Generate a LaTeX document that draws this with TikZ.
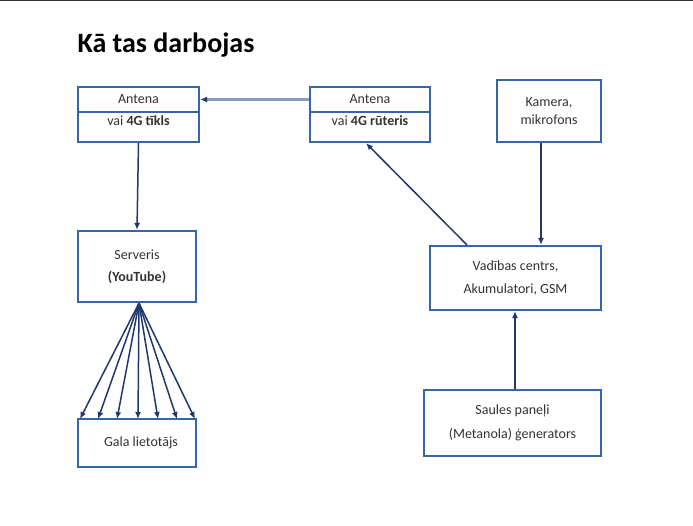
\documentclass[tikz,border=0pt]{standalone}
\usepackage{fontspec}
\setmainfont{Carlito}
\usetikzlibrary{arrows.meta}
\definecolor{boxblue}{HTML}{3566A6}
\definecolor{arrnavy}{HTML}{22386A}
\definecolor{arrlight}{HTML}{8A9CC0}
\definecolor{txtgray}{HTML}{333333}
\begin{document}
\begin{tikzpicture}[x=1pt,y=-1pt,
  box/.style={draw=boxblue,line width=2.2pt,fill=white,inner sep=0pt,align=center,text=txtgray,font=\fontsize{14}{16}\selectfont},
  conn/.style={draw=arrnavy,line width=1.5pt,-{Latex[length=7pt,width=6pt]}},
  connlight/.style={draw=arrlight,line width=2.2pt,-{Latex[length=7pt,width=6pt,color=arrnavy]}}]
\useasboundingbox (0,0) rectangle (693,525);
\fill[white] (0,0) rectangle (693,525);
\draw[line width=1.4pt,black!80] (0,0.7) -- (693,0.7);
\node[anchor=west,font=\bfseries\fontsize{28}{32}\selectfont] (title) at (74,45) {Kā tas darbojas};
% left antenna
\node[box,minimum width=121pt,minimum height=55pt] (antL) at (138.5,114.5) {};
\node[box,minimum width=121pt,minimum height=25pt] (antLtop) at (138.5,99.5) {Antena};
\node[font=\fontsize{14}{16}\selectfont,text=txtgray] (antLbot) at (138.5,121) {vai \textbf{4G tīkls}};
% middle antenna
\node[box,minimum width=120pt,minimum height=55pt] (antM) at (370,114.5) {};
\node[box,minimum width=120pt,minimum height=25pt] (antMtop) at (370,99.5) {Antena};
\node[font=\fontsize{14}{16}\selectfont,text=txtgray] (antMbot) at (370,121) {vai \textbf{4G rūteris}};
% camera
\node[box,minimum width=104pt,minimum height=62pt] (cam) at (549,111) {Kamera,\\[2pt]mikrofons};
% server
\node[box,minimum width=118pt,minimum height=71pt] (srv) at (137,266.5) {Serveris\\[6pt]\textbf{(YouTube)}};
% control centre
\node[box,minimum width=171pt,minimum height=64pt] (ctrl) at (515.5,278) {Vadības centrs,\\[7pt]Akumulatori, GSM};
% solar
\node[box,minimum width=177pt,minimum height=66pt] (sol) at (512.5,423) {Saules paneļi\\[8pt](Metanola) ģenerators};
% end user
\node[box,minimum width=118pt,minimum height=48pt] (user) at (137,443) {\hspace{8pt}Gala lietotājs};
% connectors
\draw[connlight] (antM.west |- antMtop) -- (antL.east |- antLtop);
\draw[conn] (antL.south) -- (srv.north);
\draw[conn] ([xshift=38pt]ctrl.north west) -- ([xshift=-4pt]antM.south);
\draw[conn] ([xshift=-8pt]cam.south) -- ([xshift=-8pt]cam.south |- ctrl.north);
\draw[conn] (sol.north -| 515,0) -- (ctrl.south -| 515,0);
\foreach \xx in {80,98,117,138,158,177,195}{
  \draw[conn] ([xshift=2pt]srv.south) -- (\xx,419);
}
\end{tikzpicture}
\end{document}
